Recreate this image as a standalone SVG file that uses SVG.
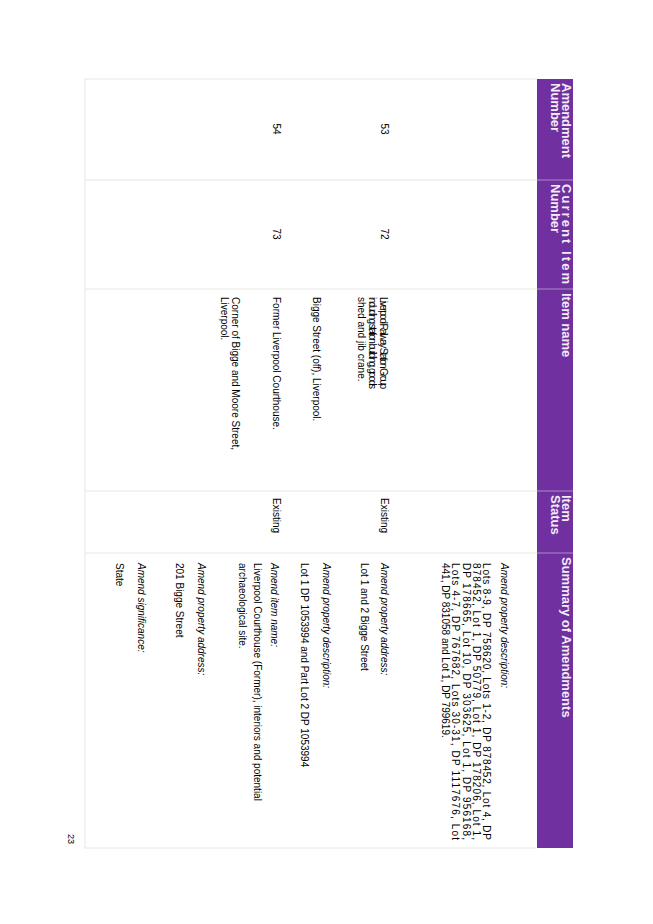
<svg xmlns="http://www.w3.org/2000/svg" width="653" height="924" viewBox="0 0 653 924">
<style>
.h{font:bold 13px "Liberation Sans",Arial,sans-serif;fill:#f2ecf7}
.t{font:10px "Liberation Sans",Arial,sans-serif;fill:#000}
.i{font:italic 10px "Liberation Sans",Arial,sans-serif;fill:#000}
.g{stroke:#e6e6e0;stroke-width:1;fill:none}
</style>
<rect width="653" height="924" fill="#fff"/>
<g transform="translate(653,0) rotate(90)">
<g id="header">
<rect x="79" y="80" width="769" height="36" fill="#7030a0"/>
<g stroke="#a98cc8" stroke-width="1"><line x1="180" y1="80" x2="180" y2="116"/><line x1="289" y1="80" x2="289" y2="116"/><line x1="491" y1="80" x2="491" y2="116"/><line x1="553" y1="80" x2="553" y2="116"/></g>
<text class="h" x="83" y="91">Amendment</text><text class="h" x="83" y="102">Number</text>
<text class="h" x="184" y="91" textLength="100" lengthAdjust="spacing">Current Item</text><text class="h" x="184" y="102">Number</text>
<text class="h" x="293" y="91">Item name</text>
<text class="h" x="495" y="91">Item</text><text class="h" x="495" y="102">Status</text>
<text class="h" x="557" y="91">Summary of Amendments</text>
</g>
<g id="grid" class="g">
<line x1="79" y1="116" x2="79" y2="568"/><line x1="180" y1="116" x2="180" y2="568"/><line x1="289" y1="116" x2="289" y2="568"/><line x1="491" y1="116" x2="491" y2="568"/><line x1="553" y1="116" x2="553" y2="568"/><line x1="848" y1="116" x2="848" y2="568"/>
<line x1="79" y1="568" x2="848" y2="568"/>
</g>
<g id="row53">
<text class="t" x="129" y="272" text-anchor="middle">53</text>
<text class="t" x="234" y="272" text-anchor="middle">72</text>
<text class="t" x="297" y="273" textLength="92" lengthAdjust="spacing">Liverpool Railway Station Group</text>
<text class="t" x="297" y="284" textLength="92" lengthAdjust="spacing">including station building, goods</text>
<text class="t" x="297" y="295">shed and jib crane.</text>
<text class="t" x="297" y="340">Bigge Street (off), Liverpool.</text>
<text class="t" x="498" y="272">Existing</text>
<text class="i" x="563" y="152">Amend property description:</text>
<text class="t" x="563" y="170" textLength="277" lengthAdjust="spacing">Lots 8-9, DP 758620, Lots 1-2, DP 878452, Lot 4, DP</text>
<text class="t" x="563" y="180" textLength="277" lengthAdjust="spacing">878452, Lot 1, DP 50779, Lot 1, DP 178206, Lot 1,</text>
<text class="t" x="563" y="190" textLength="277" lengthAdjust="spacing">DP 178665, Lot 10, DP 303625, Lot 1, DP 956168,</text>
<text class="t" x="563" y="201" textLength="277" lengthAdjust="spacing">Lots 4-7, DP 767682, Lots 30-31, DP 1117676, Lot</text>
<text class="t" x="563" y="211">441, DP 831058 and Lot 1, DP 799619.</text>
<text class="i" x="563" y="272">Amend property address:</text>
<text class="t" x="563" y="292">Lot 1 and 2 Bigge Street</text>
<text class="i" x="563" y="330">Amend property description:</text>
<text class="t" x="563" y="352">Lot 1 DP 1053994 and Part Lot 2 DP 1053994</text>
</g>
<g id="row54">
<text class="t" x="129" y="380" text-anchor="middle">54</text>
<text class="t" x="234" y="380" text-anchor="middle">73</text>
<text class="t" x="297" y="380">Former Liverpool Courthouse.</text>
<text class="t" x="297" y="421" textLength="153" lengthAdjust="spacing">Corner of Bigge and Moore Street,</text>
<text class="t" x="297" y="432">Liverpool.</text>
<text class="t" x="498" y="380">Existing</text>
<text class="i" x="563" y="382">Amend item name:</text>
<text class="t" x="563" y="399">Liverpool Courthouse (Former), interiors and potential</text>
<text class="t" x="563" y="414">archaeological site.</text>
<text class="i" x="563" y="455">Amend property address:</text>
<text class="t" x="563" y="477">201 Bigge Street</text>
<text class="i" x="563" y="515">Amend significance:</text>
<text class="t" x="563" y="537">State</text>
</g>
<text class="t" x="834" y="585" style="font-size:9px">23</text>
</g>
</svg>
